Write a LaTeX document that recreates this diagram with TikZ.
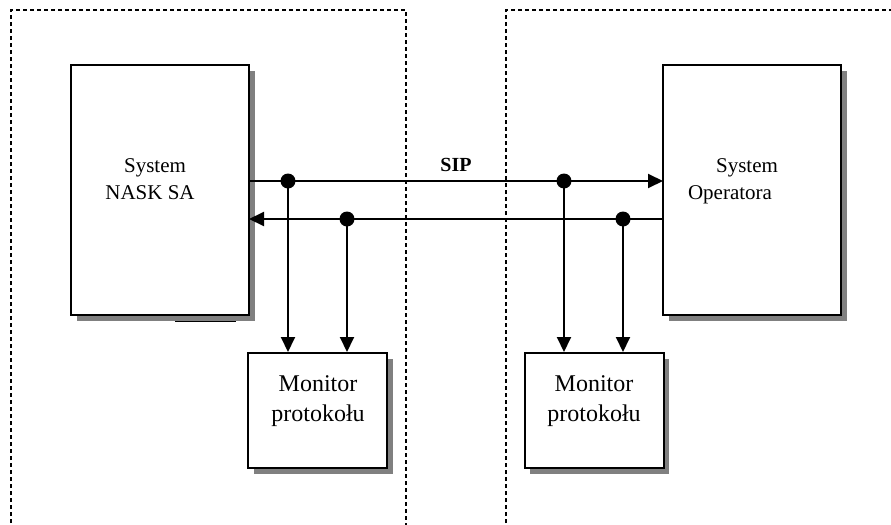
\documentclass[tikz,border=0pt]{standalone}
\usepackage{fontspec}
\setmainfont{Liberation Serif}
\usetikzlibrary{arrows.meta,shadows}

\tikzset{
        sysbox/.style={draw, line width=1pt, fill=white, minimum width=89pt, minimum height=125pt,
            drop shadow={shadow xshift=2.75pt, shadow yshift=-2.75pt, fill=black!50, opacity=1}},
        monbox/.style={draw, line width=1pt, fill=white, minimum width=69.5pt, minimum height=57.5pt,
            drop shadow={shadow xshift=2.75pt, shadow yshift=-2.75pt, fill=black!50, opacity=1}},
        systext/.style={font=\fontsize{10.5}{12.5}\selectfont, inner sep=0pt},
        montext/.style={font=\fontsize{12}{15}\selectfont, align=center, inner sep=0pt},
        dot/.style={circle, fill=black, inner sep=0pt, minimum size=7.5pt},
        flow/.style={line width=1pt, -{Triangle[length=7.5pt,width=7pt]}},
        zone/.style={line width=0.6pt, dash pattern=on 2pt off 1.5pt}
}

\begin{document}
\begin{tikzpicture}[x=0.5pt,y=-0.5pt]
        \useasboundingbox (0,0) rectangle (891,525);

        \draw[zone] (11,530) -- (11,10) -- (406,10) -- (406,530);
        \draw[zone] (506,530) -- (506,10) -- (895,10);

        \node[sysbox] (nask) at (160,190) {};
        \node[sysbox] (oper) at (752,190) {};
        \node[monbox] (mona) at (317.5,410.5) {};
        \node[monbox] (monb) at (594,410.5) {};

        \draw[line width=0.75pt] (175,321.5) -- (236,321.5);

        \node[systext] (naska) at (155,168) {System};
        \node[systext] (naskb) at (150,193) {NASK SA};
        \node[systext] (opera) at (747,168) {System};
        \node[systext] (operb) at (730,195) {Operatora};

        \node[montext] (monta) at (318,401) {Monitor\\protoko\l{}u};
        \node[montext] (montb) at (594,401) {Monitor\\protoko\l{}u};

        \coordinate (outa) at (249,181);
        \coordinate (ina) at (663,181);
        \coordinate (outb) at (663,219);
        \coordinate (inb) at (249,219);

        \draw[flow] (outa) -- (ina) node[midway, above=1pt, font=\bfseries\fontsize{10}{12}\selectfont] (sip) {SIP};
        \draw[flow] (outb) -- (inb);

        \node[dot] (da) at (288,181) {};
        \node[dot] (db) at (347,219) {};
        \node[dot] (dc) at (564,181) {};
        \node[dot] (dd) at (623,219) {};

        \foreach \d/\m in {da/mona, db/mona, dc/monb, dd/monb}
        {
            \draw[flow] (\d.center) -- (\d.center |- \m.north);
        }
\end{tikzpicture}
\end{document}
